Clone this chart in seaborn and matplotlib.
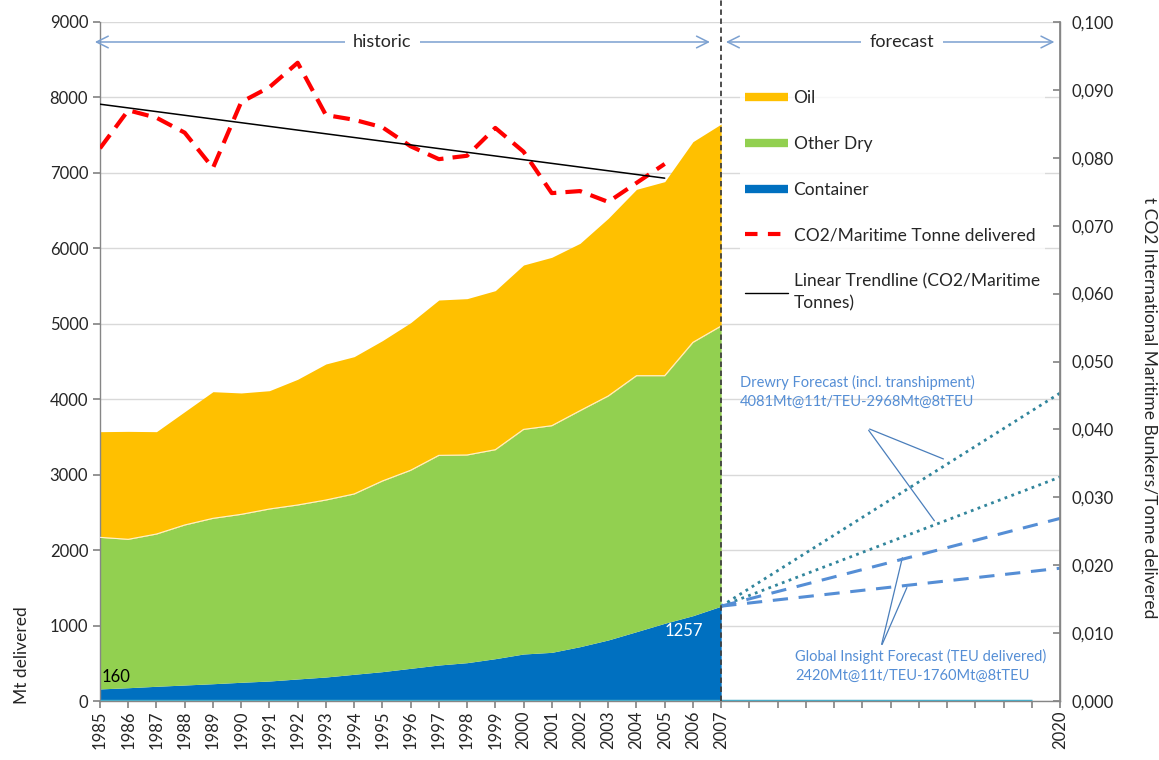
import numpy as np
import pandas as pd
import matplotlib
matplotlib.use("Agg")
import matplotlib.pyplot as plt
from matplotlib.lines import Line2D
from matplotlib.ticker import FuncFormatter, MultipleLocator
import seaborn as sns

# ---- data ------------------------------------------------------------------
years = list(range(1985, 2008))
container = [160, 176, 195, 212, 229, 248, 265, 292, 318, 354, 389, 433,
             477, 508, 561, 623, 645, 720, 809, 919, 1030, 1131, 1257]
other_dry = [2009, 1967, 2018, 2121, 2192, 2226, 2280, 2306, 2346, 2390, 2527, 2625,
             2779, 2753, 2770, 2977, 3004, 3128, 3234, 3393, 3282, 3623, 3714]
oil = [1401, 1431, 1357, 1502, 1679, 1609, 1568, 1666, 1803, 1820, 1860, 1956,
       2059, 2072, 2108, 2179, 2232, 2218, 2355, 2470, 2572, 2660, 2677]

co2_years = list(range(1985, 2006))
co2_per_tonne = [0.0814, 0.0870, 0.0859, 0.0837, 0.0785, 0.0882, 0.0904, 0.0940,
                 0.0863, 0.0856, 0.0845, 0.0817, 0.0798, 0.0803, 0.0844, 0.0809,
                 0.0748, 0.0751, 0.0735, 0.0763, 0.0791]

forecast_start = 1257
drewry_2020 = [4081, 2968]
global_insight_2020 = [2420, 1760]

tick_labels = [str(y) for y in years] + [""] * 11 + ["2020"]
# ---------------------------------------------------------------------------

sns.set_theme(style="white")
plt.rcParams["font.family"] = ["Lato", "DejaVu Sans"]

C_OIL = "#FFC000"
C_DRY = "#92D050"
C_CONT = "#0070C0"
C_TEAL = "#31859C"
C_BLUE = "#558ED5"
C_ARROW = "#7BA0D0"

fig = plt.figure(figsize=(11.59, 7.6), dpi=100)
ax = fig.add_axes([100 / 1159, 1 - 701 / 760, 960 / 1159, 679 / 760])

x = np.arange(len(years))
x_2020 = len(years) - 1 + 12

ax.stackplot(x, container, other_dry, oil, colors=[C_CONT, C_DRY, C_OIL],
             linewidth=0, zorder=2)
green_top = np.array(container) + np.array(other_dry)
ax.plot(x, green_top, color="white", lw=0.8, alpha=0.8, zorder=3)

# zero line along the bottom
ax.plot([0, x_2020 - 1], [0, 0], color="#4BACC6", lw=2.5, zorder=4,
        solid_capstyle="butt")

# forecasts
x0 = len(years) - 1
for v in drewry_2020:
    ax.plot([x0, x_2020], [forecast_start, v], color=C_TEAL, lw=2,
            linestyle=(0, (1, 1.6)), zorder=4)
for v in global_insight_2020:
    ax.plot([x0, x_2020], [forecast_start, v], color=C_BLUE, lw=2.2,
            linestyle=(0, (5, 3.5)), zorder=4)

ax.set_xlim(0, x_2020)
ax.set_ylim(0, 9000)
ax.yaxis.set_major_locator(MultipleLocator(1000))
ax.grid(axis="y", color="#D9D9D9", lw=1)
ax.grid(axis="x", visible=False)
ax.set_axisbelow(True)
ax.set_xticks(np.arange(0, x_2020 + 1))
ax.set_xticklabels(tick_labels, rotation=90, fontsize=12)
ax.tick_params(axis="x", direction="out", length=5, color="#868686", pad=2, bottom=True)
ax.tick_params(axis="y", direction="out", length=5, color="#868686", labelsize=12, left=True)
ax.spines["top"].set_visible(False)
for s in ["left", "bottom", "right"]:
    ax.spines[s].set_color("#868686")
    ax.spines[s].set_linewidth(1)

# vertical separator at 2007
ax.plot([x0, x0], [0, 9290], color="#404040", lw=1.3, linestyle=(0, (3, 2)),
        clip_on=False, zorder=5)

# data labels
ax.text(0.05, 320, "160", fontsize=12, color="black", ha="left", va="center", zorder=6)
ax.text(x0 - 0.65, 930, "1257", fontsize=12, color="white", ha="right", va="center", zorder=6)

# secondary axis with CO2 intensity
ax2 = ax.twinx()
co2_df = pd.DataFrame({"x": np.arange(len(co2_years)), "co2": co2_per_tonne})
sns.lineplot(data=co2_df, x="x", y="co2", ax=ax2, color="#FF0000", lw=3,
             linestyle=(0, (4, 2.2)), zorder=5)
coef = np.polyfit(co2_df["x"], co2_df["co2"], 1)
ax2.plot(co2_df["x"], np.polyval(coef, co2_df["x"]), color="black", lw=1.1, zorder=5)
ax2.set_ylim(0, 0.1)
ax2.yaxis.set_major_locator(MultipleLocator(0.01))
ax2.yaxis.set_major_formatter(FuncFormatter(lambda v, p: f"{v:.3f}".replace(".", ",")))
ax2.tick_params(axis="y", direction="in", length=5, color="#868686", labelsize=12,
                right=True, pad=8)
ax2.set_xlabel("")
ax2.set_ylabel("")
for s in ["top", "left", "bottom"]:
    ax2.spines[s].set_visible(False)
ax2.spines["right"].set_color("#868686")
ax2.grid(False)

# historic / forecast arrows
y_arr = 8735
arrow_kw = dict(arrowstyle="<->,head_length=0.7,head_width=0.35", color=C_ARROW, lw=1.1)
ax.annotate("", xy=(-0.28, y_arr), xytext=(21.7, y_arr), arrowprops=arrow_kw,
            annotation_clip=False)
ax.annotate("", xy=(22.07, y_arr), xytext=(33.9, y_arr), arrowprops=arrow_kw,
            annotation_clip=False)
bbox = dict(facecolor="white", edgecolor="none", pad=6)
ax.text(10.0, y_arr, "historic", fontsize=13, ha="center", va="center", bbox=bbox, zorder=6)
ax.text(28.4, y_arr, "forecast", fontsize=13, ha="center", va="center", bbox=bbox, zorder=6)

# forecast annotations (pixel -> data helper)
def px(xp, yp):
    return ((xp - 100) / (960 / x_2020), (701 - yp) / 679 * 9000)

ax.text(*px(740, 392), "Drewry Forecast (incl. transhipment)\n4081Mt@11t/TEU-2968Mt@8tTEU",
        fontsize=10.5, color=C_BLUE, ha="left", va="center", linespacing=1.5, zorder=6)
for end in [(946, 460), (936, 523)]:
    ax.annotate("", xy=px(*end), xytext=px(867, 428),
                arrowprops=dict(arrowstyle="-", color="#4A7EBB", lw=0.9))
ax.text(*px(795, 666), "Global Insight Forecast (TEU delivered)\n2420Mt@11t/TEU-1760Mt@8tTEU",
        fontsize=10.5, color=C_BLUE, ha="left", va="center", linespacing=1.5, zorder=6)
for end in [(903, 555), (908, 585)]:
    ax.annotate("", xy=px(*end), xytext=px(881, 647),
                arrowprops=dict(arrowstyle="-", color="#4A7EBB", lw=0.9))

# legend
handles = [
    Line2D([], [], color=C_OIL, lw=6, solid_capstyle="butt"),
    Line2D([], [], color=C_DRY, lw=6, solid_capstyle="butt"),
    Line2D([], [], color=C_CONT, lw=6, solid_capstyle="butt"),
    Line2D([], [], color="#FF0000", lw=3, linestyle=(0, (3, 2.5))),
    Line2D([], [], color="black", lw=1),
]
labels = ["Oil", "Other Dry", "Container", "CO2/Maritime Tonne delivered",
          "Linear Trendline (CO2/Maritime\nTonnes)"]
leg = ax2.legend(handles, labels, loc="upper left", bbox_to_anchor=(731 / 1159, 1 - 76 / 760),
                 bbox_transform=fig.transFigure, frameon=True, fontsize=12.5,
                 handlelength=2.5, handletextpad=0.3, labelspacing=1.72, borderpad=0.3)
for t in leg.get_texts():
    t.set_linespacing(1.45)
leg.get_frame().set_facecolor("white")
leg.get_frame().set_edgecolor("none")
leg.set_zorder(2)

fig.text(22 / 1159, 1 - 655 / 760, "Mt delivered", rotation=90, fontsize=12.5,
         ha="center", va="center")
fig.text(1150 / 1159, 1 - 408 / 760, "t CO2 International Maritime Bunkers/Tonne delivered",
         rotation=-90, fontsize=12.5, ha="center", va="center")

fig.savefig("out.png", dpi=100)
